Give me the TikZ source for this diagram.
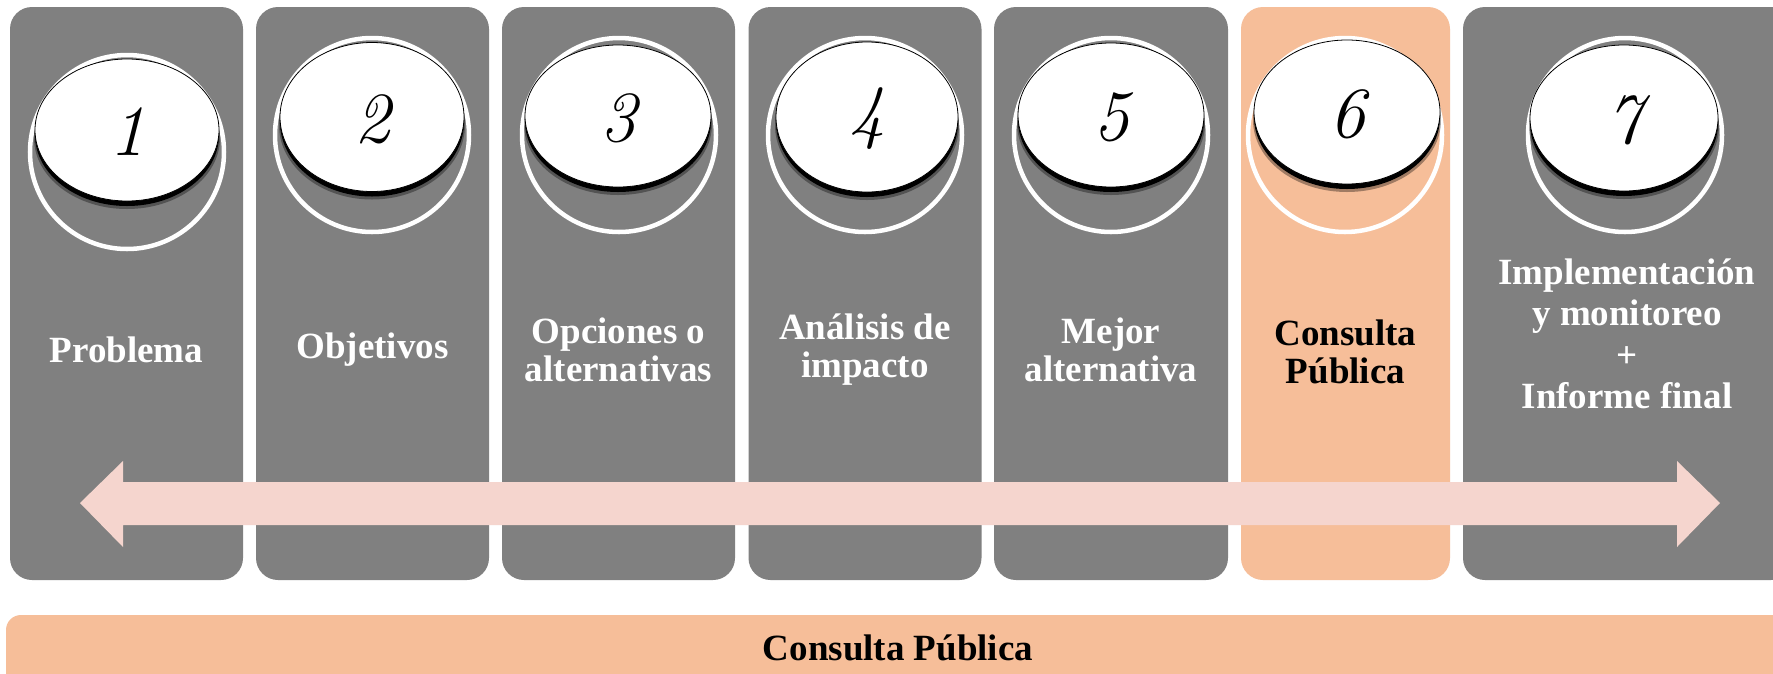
\documentclass[tikz,border=0pt]{standalone}
\usepackage{fontspec}
\newfontfamily\gara{Liberation Serif}
\usetikzlibrary{shapes.geometric}
\definecolor{boxgray}{RGB}{128,128,128}
\definecolor{peach}{RGB}{246,190,153}
\definecolor{arrowpink}{RGB}{245,213,206}
\tikzset{
  stepbox/.style={rectangle, rounded corners=22pt, fill=boxgray, inner sep=0pt, minimum height=573pt},
  ring/.style={circle, draw=white, line width=4.5pt, minimum size=194pt, inner sep=0pt},
  disc/.style={ellipse, fill=white, draw=black, line width=0.8pt, inner sep=0pt},
  discshadow/.style={ellipse, fill=black, inner sep=0pt},
  discglow/.style={ellipse, fill=black, fill opacity=0.35, inner sep=0pt},
  digit/.style={font=\fontsize{72}{72}\selectfont\itshape, text=black},
  lab/.style={font=\gara\bfseries\fontsize{37}{38}\selectfont, text=white, align=center},
  lab7/.style={font=\gara\bfseries\fontsize{37}{41.5}\selectfont, text=white, align=center},
}
\newcommand{\stepdisc}[8]{%
  \node[ring] (r#1) at (#2,#3) {};
  \node[discglow, minimum width=#6pt+2pt, minimum height=#7pt] (g#1) at (#4,#5+8) {};
  \node[discshadow, minimum width=#6pt, minimum height=#7pt] (s#1) at (#4,#5+5) {};
  \node[disc, minimum width=#6pt, minimum height=#7pt] (d#1) at (#4,#5) {};
  \node[digit] (n#1) at (#4,#5+2) {#8};
}
\begin{document}
\begin{tikzpicture}[x=1pt,y=-1pt]
\useasboundingbox (0,0) rectangle (1773,673);
\fill[white] (0,0) rectangle (1773,673);
% boxes
\node[stepbox, minimum width=233pt] (b1) at (126.5,293.5) {};
\node[stepbox, minimum width=233pt] (b2) at (372.5,293.5) {};
\node[stepbox, minimum width=233pt] (b3) at (618.5,293.5) {};
\node[stepbox, minimum width=233pt] (b4) at (865,293.5) {};
\node[stepbox, minimum width=234pt] (b5) at (1111,293.5) {};
\node[stepbox, minimum width=209pt, fill=peach] (b6) at (1345.5,293.5) {};
\node[stepbox, minimum width=330pt] (b7) at (1628,293.5) {};
% discs
\stepdisc{1}{127}{152}{127}{130}{184}{142}{1}
\stepdisc{2}{372}{135}{372}{117}{184}{149}{2}
\stepdisc{3}{619}{135}{618}{116}{186}{142}{3}
\stepdisc{4}{865}{135}{867}{117}{182}{150}{4}
\stepdisc{5}{1111}{135}{1111}{115}{186}{144}{5}
\stepdisc{6}{1345}{135}{1347}{112}{186}{144}{6}
\stepdisc{7}{1625}{135}{1624}{118}{188}{146}{7}
% labels
\node[lab] (t1) at (126.5,350) {Problema};
\node[lab] (t2) at (372.5,350) {Objetivos};
\node[lab] (t3) at (618.5,350) {Opciones o\\alternativas};
\node[lab] (t4) at (865,350) {Análisis de\\impacto};
\node[lab] (t5) at (1111,350) {Mejor\\alternativa};
\node[lab, text=black] (t6) at (1345.5,352) {Consulta\\Pública};
\node[lab7] (t7) at (1627,334) {Implementación\\y monitoreo\\+\\Informe final};
% double arrow
\fill[arrowpink] (80,503) -- (123,461) -- (123,482) -- (1677,482) -- (1677,461)
  -- (1720,503) -- (1677,547) -- (1677,525) -- (123,525) -- (123,547) -- cycle;
% bottom bar
\fill[peach, rounded corners=15pt] (6,615) rectangle (1800,700);
\node[lab, text=black] (bar) at (898,648) {Consulta Pública};
\end{tikzpicture}
\end{document}
